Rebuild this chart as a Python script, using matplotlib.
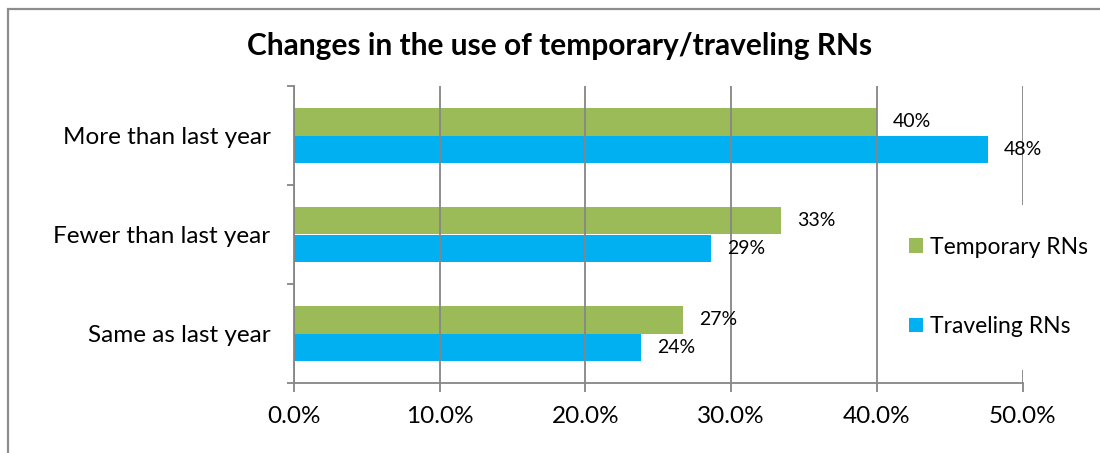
import matplotlib
matplotlib.use("Agg")
import matplotlib.pyplot as plt
from matplotlib.patches import Rectangle
import numpy as np

categories = ["More than last year", "Fewer than last year", "Same as last year"]
temporary = [40.0, 33.4, 26.7]
traveling = [47.6, 28.6, 23.8]
temp_labels = ["40%", "33%", "27%"]
trav_labels = ["48%", "29%", "24%"]
xticks = [0, 10, 20, 30, 40, 50]

green = "#9BBB59"
blue = "#00B0F0"
grey = "#868686"

plt.rcParams["font.family"] = ["Lato", "DejaVu Sans"]

fig = plt.figure(figsize=(11, 4.53), dpi=100)
ax = fig.add_axes([294 / 1100, 1 - 383 / 453, (1022.7 - 294) / 1100, (383 - 86) / 453])

# outer chart border (cut off at right/bottom)
fig.patches.append(Rectangle((8 / 1100, -0.1), 1.2, 1 - 9.5 / 453 + 0.1,
                             transform=fig.transFigure, fill=False,
                             edgecolor="#8c8c8c", lw=1.6))
# white area behind the legend hides the 50% gridline there
fig.patches.append(Rectangle((1012 / 1100, 1 - 370 / 453), 20 / 1100, 165 / 453,
                             transform=fig.transFigure, facecolor="white",
                             edgecolor="none", zorder=2))

y = np.arange(len(categories))[::-1]
h = 0.28
ax.barh(y + h / 2, temporary, h, color=green, label="Temporary RNs")
ax.barh(y - h / 2, traveling, h, color=blue, label="Traveling RNs")

for yy, v, s in zip(y, temporary, temp_labels):
    ax.annotate(s, (v, yy + h / 2), xytext=(11.5, 0), textcoords="offset points",
                va="center", ha="left", fontsize=14)
for yy, v, s in zip(y, traveling, trav_labels):
    ax.annotate(s, (v, yy - h / 2), xytext=(11.5, 0), textcoords="offset points",
                va="center", ha="left", fontsize=14)

ax.set_xlim(0, 50)
ax.set_ylim(-0.5, 2.5)
ax.set_xticks(xticks)
ax.set_xticklabels([f"{t:.1f}%" for t in xticks], fontsize=17.5)
ax.set_yticks(y)
ax.set_yticklabels(categories, fontsize=17.5)
ax.set_yticks([-0.5, 0.5, 1.5, 2.5], minor=True)
ax.tick_params(axis="y", which="major", length=0, pad=17)
ax.tick_params(axis="y", which="minor", length=5, color=grey, width=1.3)
ax.tick_params(axis="x", length=6.5, color=grey, width=1.3, pad=10)

ax.grid(axis="x", color=grey, lw=1.3)
ax.set_axisbelow(False)
for sp in ["top", "right"]:
    ax.spines[sp].set_visible(False)
for sp in ["left", "bottom"]:
    ax.spines[sp].set_color(grey)
    ax.spines[sp].set_linewidth(1.3)

leg = fig.legend(loc="center left", bbox_to_anchor=(898 / 1100, 1 - 287 / 453),
                 fontsize=16.5, frameon=False, handlelength=0.6, handleheight=0.6,
                 handletextpad=0.3, labelspacing=2.55, borderpad=0.5,
                 borderaxespad=0)
leg.set_zorder(3)

fig.text(560 / 1100, 1 - 46 / 453, "Changes in the use of temporary/traveling RNs",
         ha="center", va="center", fontsize=21.5, fontweight="bold")

fig.savefig("out.png", dpi=100)
